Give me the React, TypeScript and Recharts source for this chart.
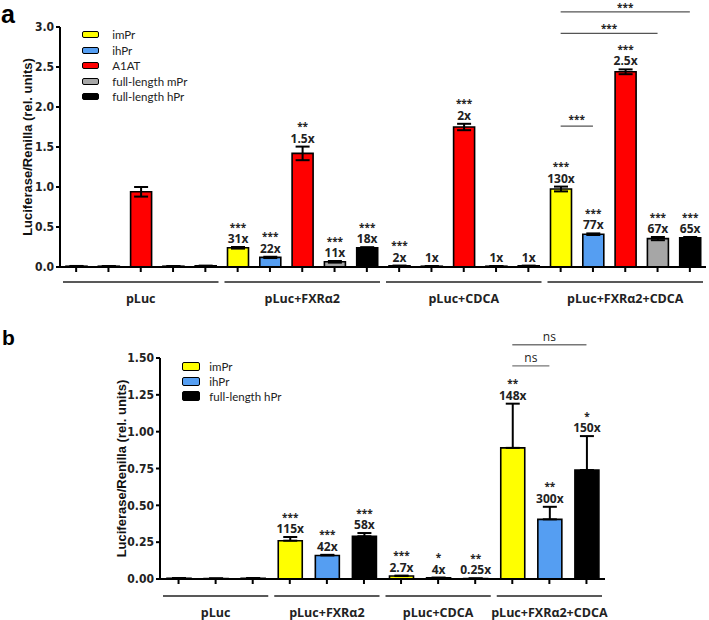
import React from 'react';
import { BarChart, Bar, XAxis, YAxis, Cell, ErrorBar, LabelList, ReferenceLine } from 'recharts';

// treatment groups along the x axis (same for both panels)
const groups = ['pLuc', 'pLuc+FXRα2', 'pLuc+CDCA', 'pLuc+FXRα2+CDCA'];

// panel a: 5 constructs, values per group
const promotersA = ['imPr', 'ihPr', 'A1AT', 'full-length mPr', 'full-length hPr'];
const valuesA = [
  [0.01, 0.24, 0.015, 0.975],   // imPr
  [0.01, 0.12, 0.01, 0.41],     // ihPr
  [0.94, 1.42, 1.75, 2.44],     // A1AT
  [0.01, 0.065, 0.01, 0.355],   // full-length mPr
  [0.015, 0.24, 0.015, 0.365],  // full-length hPr
];
const sdA = [
  [0.003, 0.01, 0.003, 0.03],
  [0.002, 0.008, 0.002, 0.01],
  [0.06, 0.085, 0.04, 0.03],
  [0.002, 0.01, 0.002, 0.02],
  [0.002, 0.008, 0.002, 0.01],
];
const sigA = [
  ['', '***', '***', '***'],
  ['', '***', '', '***'],
  ['', '**', '***', '***'],
  ['', '***', '', '***'],
  ['', '***', '', '***'],
];
const foldA = [
  ['', '31x', '2x', '130x'],
  ['', '22x', '1x', '77x'],
  ['', '1.5x', '2x', '2.5x'],
  ['', '11x', '1x', '67x'],
  ['', '18x', '1x', '65x'],
];
const ticksA = [0, 0.5, 1, 1.5, 2, 2.5, 3];

// panel b: 3 constructs
const promotersB = ['imPr', 'ihPr', 'full-length hPr'];
const valuesB = [
  [0.005, 0.26, 0.02, 0.89],
  [0.003, 0.16, 0.008, 0.405],
  [0.005, 0.29, 0.003, 0.74],
];
const sdB = [
  [0.002, 0.025, 0.003, 0.3],
  [0.001, 0.004, 0.001, 0.085],
  [0.002, 0.022, 0.001, 0.23],
];
const sigB = [
  ['', '***', '***', '**'],
  ['', '***', '*', '**'],
  ['', '***', '**', '*'],
];
const foldB = [
  ['', '115x', '2.7x', '148x'],
  ['', '42x', '4x', '300x'],
  ['', '58x', '0.25x', '150x'],
];
const ticksB = [0, 0.25, 0.5, 0.75, 1, 1.25, 1.5];

const colors: Record<string, string> = {
  imPr: '#ffff00',
  ihPr: '#559ef2',
  A1AT: '#ff0000',
  'full-length mPr': '#a6a6a6',
  'full-length hPr': '#000000',
};

const buildRows = (promoters: string[], values: number[][], sds: number[][], sigs: string[][], folds: string[][]) =>
  groups.flatMap((g, gi) =>
    promoters.map((p, pi) => ({
      key: `${g}|${p}`,
      group: g,
      promoter: p,
      value: values[pi][gi],
      sd: sds[pi][gi],
      sdUp: [0, sds[pi][gi]],
      sig: sigs[pi][gi],
      fold: folds[pi][gi],
    }))
  );

const rowsA = buildRows(promotersA, valuesA, sdA, sigA, foldA);
const rowsB = buildRows(promotersB, valuesB, sdB, sigB, foldB);

const W = 709;
const boldSans = "'Open Sans', 'DejaVu Sans', sans-serif";
const narrow = "'Liberation Sans Narrow', 'DejaVu Sans Condensed', 'Liberation Sans', sans-serif";
const arial = "'Liberation Sans', Arial, sans-serif";

const GroupTick = (props: any) => {
  const { x, y, index, per, band, lineDy, textDy } = props;
  if (index % per !== Math.floor(per / 2)) return <g />;
  const g = groups[Math.floor(index / per)];
  const half = (per * band) / 2 - 3;
  return (
    <g>
      <line x1={x - half} x2={x + half} y1={y + lineDy} y2={y + lineDy} stroke="#222" strokeWidth={1.6} />
      <text x={x} y={y + textDy} textAnchor="middle" fontFamily={boldSans} fontWeight={700} fontSize={12.5} fill="#222">
        {g}
      </text>
    </g>
  );
};

// stars + fold change above each bar, placed just over the error bar (one two-line text)
const annotation = (rows: any[]) => (props: any) => {
  const vb = props.viewBox || props;
  const row = rows.find((r) => r.key === props.value);
  if (!row || (!row.sig && !row.fold)) return null;
  const h = Math.abs(vb.height);
  const pxPerUnit = h / row.value;
  const top = vb.y - row.sd * pxPerUnit;
  const cx = vb.x + vb.width / 2;
  return (
    <text x={cx} y={top - 16.5} fontFamily={boldSans} fontWeight={700} fill="#222" textAnchor="middle">
      <tspan x={cx} fontSize={10}>{row.sig || ' '}</tspan>
      <tspan x={cx} dy={12.5} fontSize={12}>{row.fold}</tspan>
    </text>
  );
};

const LegendBox = ({ items, top, left, sw, sh, rowH, gap }: any) => (
  <div style={{ position: 'absolute', top, left, fontFamily: 'Lato, sans-serif', fontSize: 11.5, color: '#222' }}>
    {items.map((p: string) => (
      <div key={p} style={{ display: 'flex', alignItems: 'center', height: rowH }}>
        <span
          style={{
            display: 'inline-block',
            width: sw,
            height: sh,
            background: colors[p],
            border: '1.5px solid #000',
            borderRadius: 2,
            boxSizing: 'border-box',
            marginRight: gap,
          }}
        />
        {p}
      </div>
    ))}
  </div>
);

const bandA = (W - 60 - 3) / 20;
const bandB = (W - 160 - 104) / 12;

const keyOf = (g: number, p: string) => `${groups[g]}|${p}`;
const starLabel = { value: '***', position: 'top' as const, offset: 1, style: { fontSize: 10, fontWeight: 700, fill: '#222', fontFamily: boldSans } };
const nsLabel = { value: 'ns', position: 'top' as const, offset: 4, style: { fontSize: 12, fill: '#222', fontFamily: boldSans } };

export default function App() {
  return (
    <div style={{ position: 'absolute', left: 0, top: 0, width: W, height: 620, background: '#fff' }}>
      <div style={{ position: 'absolute', left: 1, top: 2, fontFamily: arial, fontWeight: 700, fontSize: 25, lineHeight: '25px' }}>a</div>
      <div style={{ position: 'absolute', left: 2, top: 327, fontFamily: arial, fontWeight: 700, fontSize: 21, lineHeight: '21px' }}>b</div>

      {/* panel a */}
      <div style={{ position: 'absolute', left: 0, top: 0 }}>
        <BarChart width={W} height={310} data={rowsA} margin={{ top: 27, right: 3, left: 0, bottom: 0 }}>
          <XAxis
            dataKey="key"
            interval={0}
            height={43}
            axisLine={{ stroke: '#000', strokeWidth: 2 }}
            tickLine={{ stroke: '#000', strokeWidth: 2 }}
            tickSize={5}
            tickMargin={0}
            tick={(p: any) => <GroupTick {...p} per={5} band={bandA} lineDy={10} textDy={30.5} />}
          />
          <YAxis
            width={60}
            domain={[0, 3]}
            ticks={ticksA}
            interval={0}
            tickFormatter={(v: number) => v.toFixed(1)}
            axisLine={{ stroke: '#000', strokeWidth: 2 }}
            tickLine={{ stroke: '#000', strokeWidth: 2 }}
            tickSize={4}
            tickMargin={2}
            tick={{ fontSize: 12, fontWeight: 700, fill: '#222', fontFamily: narrow }}
            label={{
              value: 'Luciferase/Renilla (rel. units)',
              angle: -90,
              position: 'center',
              dx: -2.5,
              style: { fontSize: 13, fontWeight: 700, fill: '#111', fontFamily: arial },
            }}
          />
          <Bar dataKey="value" barSize={21} stroke="#000" strokeWidth={1.6} isAnimationActive={false}>
            {rowsA.map((r) => (
              <Cell key={r.key} fill={colors[r.promoter]} />
            ))}
            <ErrorBar dataKey="sd" width={7} stroke="#000" strokeWidth={2} isAnimationActive={false} />
            <LabelList dataKey="key" content={annotation(rowsA)} />
          </Bar>
          <ReferenceLine
            segment={[{ x: keyOf(3, 'imPr'), y: 1.76 }, { x: keyOf(3, 'ihPr'), y: 1.76 }]}
            stroke="#555"
            strokeWidth={1.3}
            ifOverflow="visible"
            label={{ ...starLabel, offset: 3 }}
          />
          <ReferenceLine
            segment={[{ x: keyOf(3, 'imPr'), y: 2.92 }, { x: keyOf(3, 'full-length mPr'), y: 2.92 }]}
            stroke="#555"
            strokeWidth={1.3}
            ifOverflow="visible"
            label={starLabel}
          />
          <ReferenceLine
            segment={[{ x: keyOf(3, 'imPr'), y: 3.19 }, { x: keyOf(3, 'full-length hPr'), y: 3.19 }]}
            stroke="#555"
            strokeWidth={1.3}
            ifOverflow="visible"
            label={starLabel}
          />
        </BarChart>
      </div>
      <LegendBox items={promotersA} top={27.3} left={81.7} sw={17.5} sh={7} rowH={15.4} gap={13} />

      {/* panel b */}
      <div style={{ position: 'absolute', left: 0, top: 310 }}>
        <BarChart width={W} height={310} data={rowsB} margin={{ top: 48, right: 104, left: 100, bottom: 0 }}>
          <XAxis
            dataKey="key"
            interval={0}
            height={41}
            axisLine={{ stroke: '#000', strokeWidth: 2 }}
            tickLine={{ stroke: '#000', strokeWidth: 2 }}
            tickSize={5}
            tickMargin={0}
            tick={(p: any) => <GroupTick {...p} per={3} band={bandB} lineDy={12} textDy={32.5} />}
          />
          <YAxis
            width={60}
            domain={[0, 1.5]}
            ticks={ticksB}
            interval={0}
            tickFormatter={(v: number) => v.toFixed(2)}
            axisLine={{ stroke: '#000', strokeWidth: 2 }}
            tickLine={{ stroke: '#000', strokeWidth: 2 }}
            tickSize={4}
            tickMargin={2}
            tick={{ fontSize: 12, fontWeight: 700, fill: '#222', fontFamily: narrow }}
            label={{
              value: 'Luciferase/Renilla (rel. units)',
              angle: -90,
              position: 'center',
              dx: -9,
              style: { fontSize: 13, fontWeight: 700, fill: '#111', fontFamily: arial },
            }}
          />
          <Bar dataKey="value" barSize={24} stroke="#000" strokeWidth={1.6} isAnimationActive={false}>
            {rowsB.map((r) => (
              <Cell key={r.key} fill={colors[r.promoter]} />
            ))}
            <ErrorBar dataKey="sdUp" width={7} stroke="#000" strokeWidth={2} isAnimationActive={false} />
            <LabelList dataKey="key" content={annotation(rowsB)} />
          </Bar>
          <ReferenceLine
            segment={[{ x: keyOf(3, 'imPr'), y: 1.447 }, { x: keyOf(3, 'ihPr'), y: 1.447 }]}
            stroke="#777"
            strokeWidth={1.3}
            ifOverflow="visible"
            label={nsLabel}
          />
          <ReferenceLine
            segment={[{ x: keyOf(3, 'imPr'), y: 1.59 }, { x: keyOf(3, 'full-length hPr'), y: 1.59 }]}
            stroke="#777"
            strokeWidth={1.3}
            ifOverflow="visible"
            label={nsLabel}
          />
        </BarChart>
      </div>
      <LegendBox items={promotersB} top={359.3} left={181.7} sw={18.3} sh={9.5} rowH={14.7} gap={9.3} />
    </div>
  );
}
